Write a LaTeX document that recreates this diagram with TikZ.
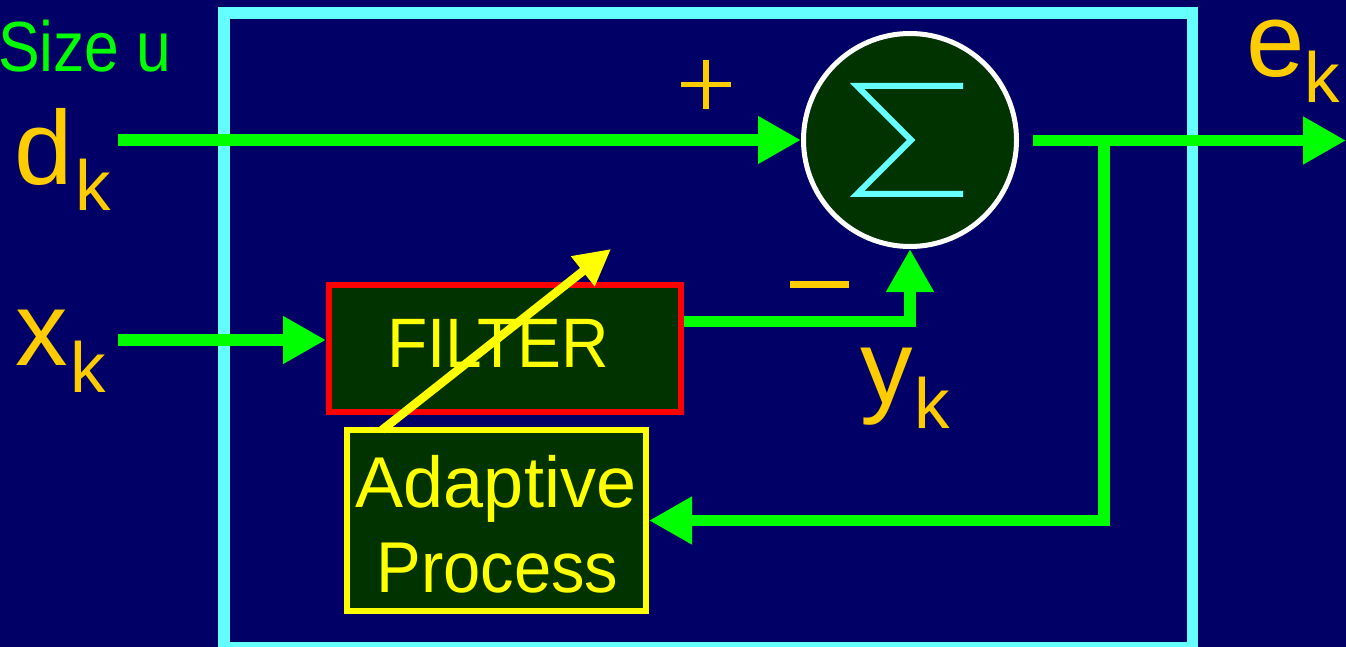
\documentclass[tikz,border=0pt]{standalone}
\usepackage{fontspec}
\setmainfont{Liberation Sans}
\usetikzlibrary{arrows.meta,calc}
\definecolor{bgnavy}{HTML}{000066}
\definecolor{sgreen}{HTML}{00FF00}
\definecolor{sorange}{HTML}{FFCC00}
\definecolor{syellow}{HTML}{FFFF00}
\definecolor{dkgreen}{HTML}{003300}
\definecolor{scyan}{HTML}{66FFFF}
\definecolor{sred}{HTML}{FF0000}
\begin{document}
\begin{tikzpicture}[x=1pt,y=-1pt,
  sig/.style={draw=sgreen, line width=11.5pt, -{Triangle[length=43pt,width=45pt]}},
  big/.style={text=sorange, inner sep=0pt, font=\fontsize{105}{105}\selectfont, anchor=base},
  subs/.style={text=sorange, inner sep=0pt, font=\fontsize{71}{71}\selectfont, anchor=base},
  boxtext/.style={text=syellow, inner sep=0pt, anchor=base},
  block/.style={rectangle, fill=dkgreen, line width=6pt, inner sep=0pt}
]
\useasboundingbox (0,0) rectangle (1346,647);
\fill[bgnavy] (0,0) rectangle (1346,647);
% outer cyan frame
\draw[scyan, line width=11.5pt] (224,13) rectangle (1192.5,648);

% nodes
\node[circle, draw=white, fill=dkgreen, line width=5pt, minimum size=213pt, inner sep=0pt] (sum) at (910,140) {};
\draw[scyan, line width=6pt, line join=miter]
  ($(sum.center)+(53,-54)$) -- ($(sum.center)+(-53,-54)$) -- ($(sum.center)+(1,0)$)
  -- ($(sum.center)+(-53,54)$) -- ($(sum.center)+(53,54)$);

\node[block, draw=sred, minimum width=352pt, minimum height=127pt] (filter) at (505,348.5) {};
\node[boxtext, font=\fontsize{70}{70}\selectfont] (filtertext) at (498,367) {\scalebox{0.94}[1]{FILTER}};

\node[block, draw=syellow, minimum width=299pt, minimum height=181pt] (adapt) at (496.5,520.5) {};
\node[boxtext, font=\fontsize{72}{72}\selectfont] (adtext1) at (496,507) {Adaptive};
\node[boxtext, font=\fontsize{72}{72}\selectfont] (adtext2) at (497.5,592) {\scalebox{0.93}[1]{Process}};

% coordinates for free ends
\coordinate (din) at (118,140);
\coordinate (xin) at (118,340);
\coordinate (fbstart) at (1104,140.5);
\coordinate (outstart) at (1033,140.5);
\coordinate (outend) at (1346,140.5);
\coordinate (adjtip) at (611,249);

% connectors
\draw[sig] (din) -- (sum.west);
\draw[sig] (xin) -- (xin -| filter.west);
\draw[sig] ($(filter.east)+(0,-27)$) -| (sum.south);
\draw[sig] (outstart) -- (outend);
\draw[sig] (fbstart) |- (adapt.east);
\draw[syellow, line width=8.5pt, -{Triangle[length=36pt,width=36pt]}]
  ($(adapt.north west)+(38,3)$) -- (adjtip);

% signs
\draw[sorange, line width=5.5pt] (681,84.5) -- (731,84.5);
\draw[sorange, line width=5.5pt] (706,60) -- (706,109);
\fill[sorange] (790,281) rectangle (849,288);

% labels
\node[text=sgreen, inner sep=0pt, anchor=base east, font=\fontsize{71}{71}\selectfont] (sizeu) at (172,72) {\scalebox{0.88}[1]{Size u}};
\node[big] (dlab) at (44,185) {d};
\node[subs] (dsub) at (93,211) {k};
\node[big] (xlab) at (42,365) {x};
\node[subs] (xsub) at (88,392) {k};
\node[big] (ylab) at (887,403) {y};
\node[subs] (ysub) at (932,428) {k};
\node[big, text height=58pt] (elab) at (1276,77) {e};
\node[subs] (esub) at (1322,103) {k};
\end{tikzpicture}
\end{document}
